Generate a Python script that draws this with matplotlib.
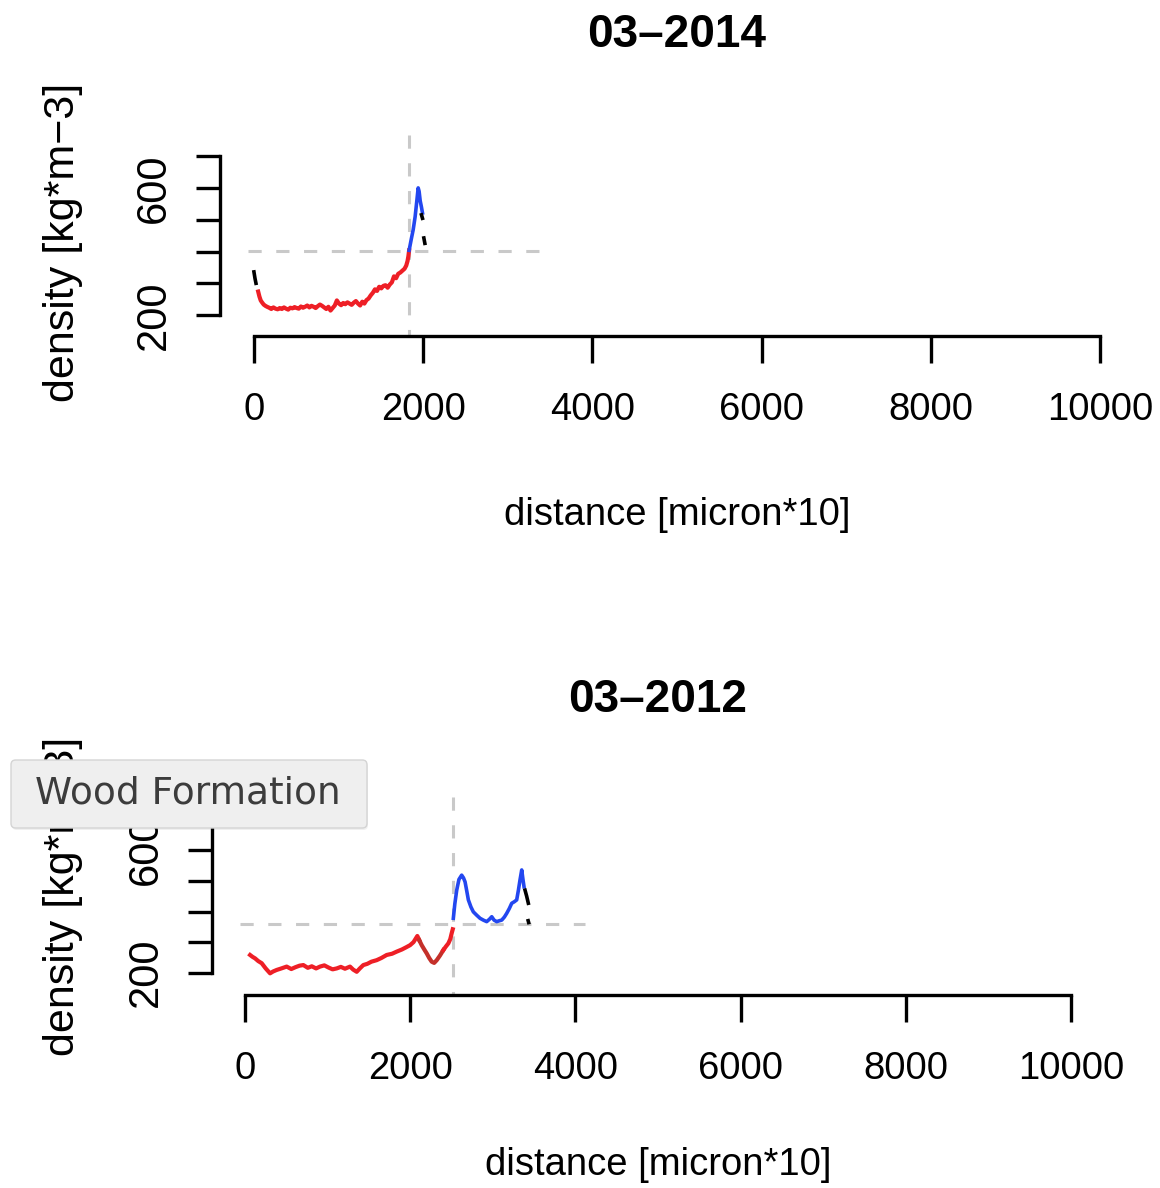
import numpy as np
import matplotlib
matplotlib.use("Agg")
import matplotlib.pyplot as plt
from matplotlib import font_manager as fm
from matplotlib.patches import FancyBboxPatch

# ---------------- data ----------------
panel_titles = ["03\u20132014", "03\u20132012"]
x_ticks = [0, 2000, 4000, 6000, 8000, 10000]
x_tick_labels = ["0", "2000", "4000", "6000", "8000", "10000"]
y_ticks = [200, 300, 400, 500, 600, 700]
y_tick_labels = ["200", "", "", "", "600", ""]
x_label = "distance [micron*10]"
y_label = "density [kg*m\u22123]"

# 03-2014 profile
d14_black_x = [0, 12, 24, np.nan, 1980, 1992, np.nan, 2008, 2020]
d14_black_y = [336, 316, 300, np.nan, 516, 505, np.nan, 443, 426]
d14_red_x = [50, 65, 80, 95, 115, 135, 155, 180, 205, 230, 255, 280, 305, 330,
             355, 380, 405, 430, 455, 480, 505, 530, 555, 580, 605, 630, 655,
             680, 705, 730, 755, 780, 805, 830, 855, 880, 905, 930, 955, 980,
             1005, 1030, 1055, 1080, 1105, 1130, 1155, 1180, 1205, 1230, 1255,
             1280, 1305, 1330, 1355, 1380, 1405, 1430, 1455, 1480, 1505, 1530,
             1555, 1580, 1605, 1630, 1655, 1680, 1705, 1730, 1755, 1780, 1800,
             1815, 1825, 1834]
d14_red_y = [274, 258, 246, 240, 233, 229, 226, 223, 219, 224, 220, 218, 222, 219,
             224, 220, 217, 223, 221, 225, 222, 220, 227, 223, 226, 230, 224,
             229, 226, 222, 228, 233, 229, 224, 219, 226, 214, 222, 230, 246,
             236, 231, 238, 234, 240, 236, 232, 239, 244, 236, 230,
             242, 236, 247, 252, 262, 270, 281, 276, 289, 284, 292,
             294, 286, 296, 303, 322, 316, 330, 334, 340, 346, 356,
             370, 385, 404]
d14_blue_x = [1834, 1860, 1882, 1905, 1925, 1941, 1952, 1965, 1980, 1992]
d14_blue_y = [404, 440, 469, 510, 560, 601, 590, 560, 540, 522]
d14_thr_x = 1834
d14_thr_y = 402
d14_hline_x = [-70, 3440]

# 03-2012 profile
d12_red_x = [61, 90, 121, 160, 202, 250, 303, 340, 383, 440, 504, 560, 610, 660,
             706, 760, 808, 860, 908, 960, 1010, 1060, 1110, 1160, 1210, 1271,
             1310, 1352, 1390, 1432, 1480, 1530, 1594, 1650, 1715, 1780, 1837,
             1900, 1950, 1998, 2040, 2086, 2110]
d12_red_y = [258, 252, 247, 238, 231, 214, 198, 204, 209, 214, 220, 212, 218, 223,
             225, 216, 221, 214, 220, 224, 217, 211, 214, 219, 213, 220,
             210, 203, 214, 225, 229, 236, 241, 248, 258, 262, 269,
             276, 283, 290, 300, 320, 306]
d12_dark_x = [2110, 2139, 2170, 2200, 2230, 2260, 2290, 2321, 2360, 2401]
d12_dark_y = [306, 290, 276, 263, 248, 236, 232, 241, 256, 274]
d12_red2_x = [2401, 2430, 2462, 2485, 2502, 2515]
d12_red2_y = [274, 285, 296, 310, 329, 342]
d12_blue_x = [2522, 2540, 2563, 2590, 2623, 2645, 2664, 2684, 2704, 2735, 2764,
              2805, 2845, 2885, 2926, 2960, 2987, 3015, 3047, 3080, 3108, 3140,
              3168, 3200, 3229, 3260, 3289, 3310, 3329, 3350, 3365, 3378]
d12_blue_y = [378, 425, 470, 505, 519, 510, 497, 468, 438, 415, 399,
              388, 378, 372, 367, 375, 383, 372, 367, 370, 372, 382,
              394, 410, 427, 432, 438, 470, 503, 536, 505, 481]
d12_black_x = [3390, 3410, 3430, np.nan, 3428, 3434]
d12_black_y = [470, 450, 427, np.nan, 370, 364]
d12_thr_x = 2522
d12_thr_y = 359
d12_hline_x = [-60, 4116]

# ---------------- style ----------------
def has_font(name):
    try:
        fm.findfont(fm.FontProperties(family=name), fallback_to_default=False)
        return True
    except Exception:
        return False

if has_font("Liberation Sans Narrow"):
    H_FONT, H_SIZE = "Liberation Sans Narrow", 32
else:
    H_FONT, H_SIZE = "Liberation Sans", 27.5
V_FONT, V_SIZE = "Liberation Sans", 30

plt.rcParams["font.family"] = ["Liberation Sans", "DejaVu Sans"]
plt.rcParams["lines.scale_dashes"] = False

RED = "#ee1f26"
DARK_RED = "#c4302a"
BLUE = "#2347f0"
GRID = "#c9c9c9"
AXW = 2.4

W, H = 1160, 1188
fig = plt.figure(figsize=(W / 100, H / 100), dpi=100)


def px_axes(left, right, top, bottom):
    return fig.add_axes([left / W, 1 - bottom / H, (right - left) / W, (bottom - top) / H])


def style_axes(ax, ylim, title, title_y, xlab_y, ylab_x, ylab_y):
    ax.set_xlim(-400, 10400)
    ax.set_ylim(*ylim)
    for s in ("top", "right"):
        ax.spines[s].set_visible(False)
    ax.spines["left"].set_bounds(200, 700)
    ax.spines["bottom"].set_bounds(0, 10000)
    for s in ("left", "bottom"):
        ax.spines[s].set_linewidth(AXW)
        ax.spines[s].set_capstyle("projecting")
    ax.set_xticks(x_ticks)
    ax.set_xticklabels(x_tick_labels, fontfamily=H_FONT, fontsize=H_SIZE)
    ax.set_yticks(y_ticks)
    ax.set_yticklabels(y_tick_labels, fontfamily=V_FONT, fontsize=V_SIZE,
                       rotation=90, va="center")
    ax.tick_params(axis="x", length=19.5, width=AXW, pad=20.5)
    ax.tick_params(axis="y", length=17, width=AXW, pad=16)
    ax.set_xlabel(x_label, fontfamily=H_FONT, fontsize=H_SIZE, va="center")
    ax.xaxis.set_label_coords(0.5, xlab_y)
    ax.set_ylabel(y_label, fontfamily=V_FONT, fontsize=V_SIZE + 1, va="center")
    ax.yaxis.set_label_coords(ylab_x, ylab_y)
    ax.set_title(title, fontsize=33, fontweight="bold", y=title_y, va="center", pad=0)
    ax.patch.set_alpha(0)


def dashed(ax, xs, ys):
    ax.plot(xs, ys, color=GRID, lw=2.2, linestyle=(0, (9.5, 10.5)), zorder=1,
            clip_on=False)


# ---- 03-2014 ----
ax1 = px_axes(220.1, 1133.9, 135, 336)
style_axes(ax1, (133.8, 767.8), panel_titles[0], (336 - 35) / 201,
           (336 - 515) / 201, (63 - 220.1) / 913.8, (336 - 242) / 201)
dashed(ax1, d14_hline_x, [d14_thr_y, d14_thr_y])
dashed(ax1, [d14_thr_x, d14_thr_x], [767.8, 133.8])
ax1.plot(d14_red_x, d14_red_y, color=RED, lw=3.0, zorder=3, solid_joinstyle="round")
ax1.plot(d14_blue_x, d14_blue_y, color=BLUE, lw=2.6, zorder=3)
ax1.plot(d14_black_x, d14_black_y, color="black", lw=2.6, zorder=4)

# ---- 03-2012 ----
ax2 = px_axes(212, 1104, 797, 995)
style_axes(ax2, (127.1, 774.5), panel_titles[1], (995 - 700) / 198,
           (995 - 1165) / 198, (63 - 212) / 892, 0.5)
dashed(ax2, d12_hline_x, [d12_thr_y, d12_thr_y])
dashed(ax2, [d12_thr_x, d12_thr_x], [774.5, 127.1])
ax2.plot(d12_red_x, d12_red_y, color=RED, lw=3.0, zorder=3, solid_joinstyle="round")
ax2.plot(d12_dark_x, d12_dark_y, color=DARK_RED, lw=3.0, zorder=3)
ax2.plot(d12_red2_x, d12_red2_y, color=RED, lw=3.0, zorder=3)
ax2.plot(d12_blue_x, d12_blue_y, color=BLUE, lw=2.6, zorder=3)
ax2.plot(d12_black_x, d12_black_y, color="black", lw=2.6, zorder=4)

# ---- hover tooltip ----
shadow = FancyBboxPatch((12 / W, 1 - 830 / H), 356 / W, 68 / H,
                        boxstyle="round,pad=0,rounding_size=0.004",
                        transform=fig.transFigure, facecolor="#000000", alpha=0.06,
                        edgecolor="none", zorder=9)
box = FancyBboxPatch((11 / W, 1 - 828 / H), 356 / W, 68 / H,
                     boxstyle="round,pad=0,rounding_size=0.004",
                     transform=fig.transFigure, facecolor="#efefef",
                     edgecolor="#d4d4d4", linewidth=1.0, zorder=10)
fig.patches.extend([shadow, box])
fig.text(35 / W, 1 - 794 / H, "Wood Formation", fontsize=27, color="#3c3c3c",
         family=["DejaVu Sans"], va="center", ha="left", zorder=11)

fig.savefig("out.png", dpi=100)
